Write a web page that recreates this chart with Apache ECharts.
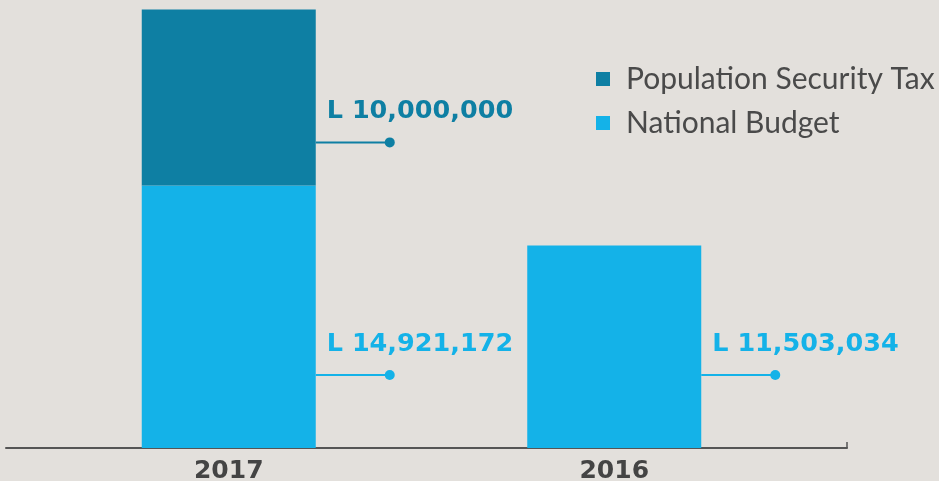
<!DOCTYPE html>
<html>
<head>
<meta charset="utf-8">
<script src="https://cdn.jsdelivr.net/npm/echarts@6/dist/echarts.min.js"></script>
<style>
  html, body { margin: 0; padding: 0; background: #e3e0dc; }
  #chart { width: 939px; height: 481px; }
</style>
</head>
<body>
<div id="chart"></div>
<script>
// data
const categories = ["2017", "2016"];
const seriesNames = ["Population Security Tax", "National Budget"];
const nationalBudget = [14921172, 11503034];
const populationSecurityTax = [10000000, null]; // only in 2017

const DARK = "#0e7fa3";
const LIGHT = "#14b2e8";
const BAR_WIDTH = 174;

const chart = echarts.init(document.getElementById("chart"));

chart.setOption({
  backgroundColor: "#e3e0dc",
  animation: false,
  grid: [
    // bars
    { left: 36, right: 132, top: 8, bottom: 33, outerBoundsMode: "none" },
    // long baseline
    { left: 6, right: 92, top: 8, bottom: 33, outerBoundsMode: "none" },
  ],
  legend: {
    orient: "vertical",
    left: 591,
    top: 59,
    itemWidth: 14,
    itemHeight: 14,
    itemGap: 14,
    icon: "rect",
    data: seriesNames,
    textStyle: {
      fontFamily: "Lato",
      fontWeight: "normal",
      fontSize: 30,
      color: "#4a4a4a",
      padding: [0, 0, 0, 11],
    },
  },
  xAxis: [
    {
      type: "category",
      gridIndex: 0,
      data: categories,
      axisLine: { show: false },
      axisTick: { show: false },
      axisLabel: {
        fontFamily: "DejaVu Sans",
        fontWeight: "bold",
        fontSize: 25,
        color: "#444",
        margin: 11,
      },
    },
    {
      type: "value",
      gridIndex: 1,
      min: 0,
      max: 1,
      splitLine: { show: false },
      axisLabel: { show: false },
      axisLine: { show: true, lineStyle: { color: "#555", width: 2 } },
      axisTick: {
        show: true,
        inside: true,
        length: 6,
        customValues: [1],
        lineStyle: { color: "#555", width: 1.5 },
      },
    },
  ],
  yAxis: [
    { type: "value", gridIndex: 0, min: 0, max: 25000000, show: false },
    { type: "value", gridIndex: 1, min: 0, max: 1, show: false },
  ],
  series: [
    {
      name: "National Budget",
      type: "bar",
      stack: "total",
      barWidth: BAR_WIDTH,
      itemStyle: { color: LIGHT },
      data: nationalBudget,
    },
    {
      name: "Population Security Tax",
      type: "bar",
      stack: "total",
      barWidth: BAR_WIDTH,
      itemStyle: { color: DARK },
      data: populationSecurityTax,
    },
  ],
});

// callouts: line + dot from bar edge, value text above
const px = (i, v) => chart.convertToPixel({ gridIndex: 0 }, [i, v]);
const fmt = (v) => "L " + v.toLocaleString("en-US");
const baseY = px(0, 0)[1];
const topY = px(0, nationalBudget[0] + populationSecurityTax[0])[1];
const callouts = [
  { i: 0, value: populationSecurityTax[0], color: DARK, lineY: topY + 133 },
  { i: 0, value: nationalBudget[0], color: LIGHT, lineY: baseY - 73 },
  { i: 1, value: nationalBudget[1], color: LIGHT, lineY: baseY - 73 },
];
const graphic = [];
callouts.forEach((c) => {
  const right = px(c.i, 0)[0] + BAR_WIDTH / 2;
  graphic.push({
    type: "line",
    shape: { x1: right, y1: c.lineY, x2: right + 74, y2: c.lineY },
    style: { stroke: c.color, lineWidth: 2 },
  });
  graphic.push({
    type: "circle",
    shape: { cx: right + 74, cy: c.lineY, r: 5 },
    style: { fill: c.color },
  });
  graphic.push({
    type: "text",
    x: right + 11,
    y: c.lineY - 31,
    style: {
      text: fmt(c.value),
      fill: c.color,
      font: "bold 25.5px 'DejaVu Sans'",
      verticalAlign: "middle",
    },
  });
});
chart.setOption({ graphic: graphic });
</script>
</body>
</html>
